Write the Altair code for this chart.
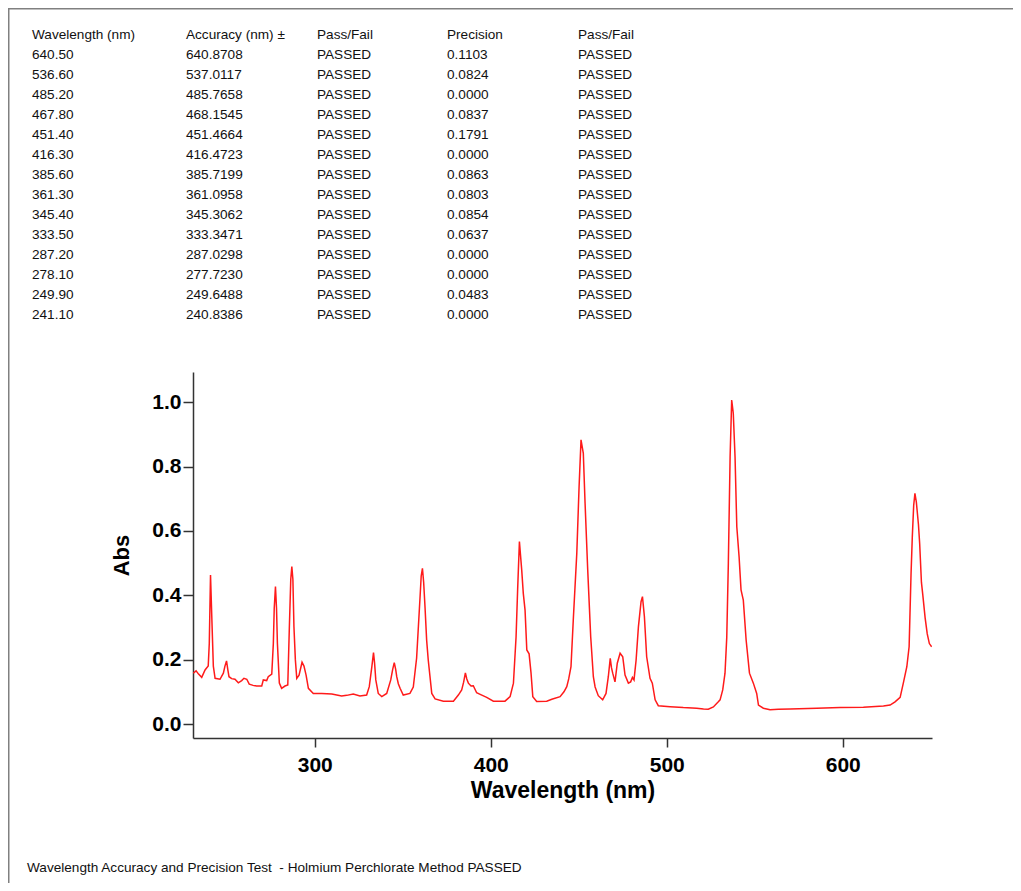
import altair as alt
import pandas as pd

# ---------------- data ----------------
wavelength_nm = [
    231.0, 232.6, 234.0, 235.8, 237.7, 239.5, 240.1, 240.8, 241.6, 242.4,
    243.4, 246.2, 248.1, 249.0, 249.9, 250.6, 251.3, 252.8, 254.7, 256.6,
    258.5, 259.8, 261.4, 262.8, 265.0, 267.0, 269.9, 270.8, 272.7, 273.6,
    275.6, 276.5, 277.0, 277.7, 278.3, 278.8, 279.9, 281.2, 283.1, 284.7,
    285.6, 286.4, 287.0, 287.6, 288.2, 289.0, 289.8, 291.1, 292.8, 293.9,
    295.1, 296.4, 299.2, 304.0, 309.7, 315.3, 318.2, 321.9, 325.7, 329.5,
    331.0, 332.5, 333.4, 334.0, 334.7, 336.1, 338.1, 340.9, 343.2, 344.3,
    345.2, 346.0, 346.6, 347.5, 348.5, 350.3, 354.1, 356.0, 357.9, 359.8,
    360.5, 361.2, 361.9, 362.7, 363.6, 364.5, 366.5, 368.4, 373.1, 378.8,
    381.6, 383.5, 384.6, 385.6, 386.4, 387.3, 388.8, 390.1, 392.0, 394.0,
    397.7, 401.5, 408.1, 411.0, 412.9, 414.4, 415.3, 416.3, 417.6, 418.5,
    419.5, 420.5, 421.8, 422.9, 423.9, 426.1, 431.8, 434.7, 439.4, 441.6,
    443.2, 444.3, 445.6, 446.9, 448.9, 450.2, 451.3, 452.6, 453.6, 455.1,
    456.8, 458.3, 459.3, 461.1, 463.6, 465.5, 466.8, 467.9, 468.6, 469.3,
    470.6, 471.9, 473.5, 475.0, 476.3, 478.2, 479.5, 480.5, 481.4, 482.6,
    483.9, 485.4, 486.2, 487.3, 488.6, 490.5, 491.8, 493.4, 495.2, 501.9,
    509.4, 517.0, 520.9, 523.6, 526.5, 529.3, 530.3, 531.8, 533.1, 534.1,
    535.0, 536.0, 536.9, 537.8, 538.8, 539.8, 541.1, 542.2, 543.5, 545.1,
    547.0, 549.2, 551.1, 552.1, 554.9, 558.7, 563.4, 570.1, 585.2, 598.5,
    611.7, 623.1, 626.9, 629.7, 632.6, 634.4, 636.4, 637.7, 638.8, 639.5,
    640.3, 641.0, 641.8, 643.0, 643.7, 644.7, 645.5, 646.8, 648.0, 649.2,
    650.5,
]
absorbance = [
    0.158, 0.165, 0.155, 0.145, 0.168, 0.180, 0.250, 0.463, 0.320, 0.180,
    0.142, 0.139, 0.158, 0.180, 0.196, 0.170, 0.147, 0.141, 0.139, 0.128,
    0.135, 0.142, 0.139, 0.124, 0.120, 0.118, 0.118, 0.137, 0.135, 0.147,
    0.155, 0.251, 0.360, 0.427, 0.360, 0.251, 0.127, 0.111, 0.118, 0.121,
    0.302, 0.450, 0.489, 0.450, 0.302, 0.200, 0.142, 0.152, 0.192, 0.180,
    0.152, 0.111, 0.095, 0.095, 0.093, 0.087, 0.089, 0.093, 0.087, 0.090,
    0.116, 0.180, 0.222, 0.190, 0.137, 0.095, 0.085, 0.095, 0.137, 0.170,
    0.191, 0.170, 0.147, 0.125, 0.111, 0.090, 0.095, 0.115, 0.205, 0.390,
    0.460, 0.484, 0.440, 0.360, 0.260, 0.199, 0.095, 0.078, 0.071, 0.071,
    0.090, 0.106, 0.130, 0.159, 0.140, 0.127, 0.118, 0.119, 0.097, 0.092,
    0.083, 0.071, 0.071, 0.085, 0.127, 0.271, 0.420, 0.567, 0.479, 0.406,
    0.354, 0.230, 0.218, 0.158, 0.085, 0.070, 0.071, 0.077, 0.085, 0.100,
    0.116, 0.140, 0.178, 0.323, 0.531, 0.738, 0.883, 0.841, 0.686, 0.479,
    0.271, 0.147, 0.115, 0.088, 0.075, 0.095, 0.147, 0.204, 0.175, 0.158,
    0.131, 0.189, 0.220, 0.209, 0.152, 0.127, 0.131, 0.145, 0.137, 0.199,
    0.302, 0.380, 0.396, 0.334, 0.209, 0.142, 0.127, 0.075, 0.057, 0.054,
    0.051, 0.049, 0.047, 0.046, 0.053, 0.069, 0.075, 0.106, 0.158, 0.270,
    0.500, 0.831, 1.007, 0.966, 0.831, 0.613, 0.520, 0.417, 0.385, 0.261,
    0.158, 0.127, 0.095, 0.059, 0.049, 0.044, 0.046, 0.047, 0.049, 0.051,
    0.052, 0.056, 0.059, 0.069, 0.083, 0.127, 0.178, 0.240, 0.468, 0.580,
    0.680, 0.717, 0.690, 0.620, 0.560, 0.440, 0.400, 0.330, 0.280, 0.250,
    0.240,
]

table_headers = ["Wavelength (nm)", "Accuracy (nm) \u00b1", "Pass/Fail", "Precision", "Pass/Fail"]
ref_wavelength = ["640.50", "536.60", "485.20", "467.80", "451.40", "416.30", "385.60",
                  "361.30", "345.40", "333.50", "287.20", "278.10", "249.90", "241.10"]
accuracy = ["640.8708", "537.0117", "485.7658", "468.1545", "451.4664", "416.4723", "385.7199",
            "361.0958", "345.3062", "333.3471", "287.0298", "277.7230", "249.6488", "240.8386"]
accuracy_result = ["PASSED"] * 14
precision = ["0.1103", "0.0824", "0.0000", "0.0837", "0.1791", "0.0000", "0.0863",
             "0.0803", "0.0854", "0.0637", "0.0000", "0.0000", "0.0483", "0.0000"]
precision_result = ["PASSED"] * 14

x_ticks = [300, 400, 500, 600]
y_ticks = [0.0, 0.2, 0.4, 0.6, 0.8, 1.0]
caption = "Wavelength Accuracy and Precision Test\u00a0 - Holmium Perchlorate Method PASSED"

# ---------------- layout ----------------
PAD_L, PAD_T, PAD_R, PAD_B = 185, 364, 81, 145
W, H = 739, 366
FONT = "Liberation Sans"

spec_df = pd.DataFrame({"wl": wavelength_nm, "abs": absorbance})

spectrum = alt.Chart(spec_df).mark_line(color="#ff1a1a", strokeWidth=1.5, clip=True).encode(
    x=alt.X("wl:Q",
            scale=alt.Scale(domain=[230.85, 650.7], nice=False, zero=False),
            axis=alt.Axis(values=x_ticks, format="d", grid=False,
                          title="Wavelength (nm)", titleFont=FONT, titleFontSize=23,
                          titleFontWeight="bold", titleColor="black",
                          titleY=52, titleBaseline="middle",
                          labelFont=FONT, labelFontSize=21, labelFontWeight="bold",
                          labelColor="black", labelPadding=7,
                          tickSize=9, tickWidth=1.5, tickColor="#333333",
                          domainColor="#333333", domainWidth=1.5)),
    y=alt.Y("abs:Q",
            scale=alt.Scale(domain=[-0.0435, 1.094], nice=False, zero=False),
            axis=alt.Axis(values=y_ticks, format=".1f", grid=False,
                          title="Abs", titleFont=FONT, titleFontSize=22,
                          titleFontWeight="bold", titleColor="black",
                          titleX=-72, titleY=H / 2, titleAngle=270,
                          titleBaseline="middle", titleAlign="center",
                          labelFont=FONT, labelFontSize=21, labelFontWeight="bold",
                          labelColor="black", labelPadding=2,
                          tickSize=10, tickWidth=1.5, tickColor="#333333",
                          domainColor="#333333", domainWidth=1.5)),
)

# table: one text layer per column (header + 14 rows)
columns = [ref_wavelength, accuracy, accuracy_result, precision, precision_result]
col_screen_x = [32, 186, 317, 447, 578]
row_scale = alt.Scale(domain=[0, 14], range=[35 - 8 - PAD_T, 315 - 8 - PAD_T])

table_layers = []
for header, values, sx in zip(table_headers, columns, col_screen_x):
    df = pd.DataFrame({"row": list(range(15)), "label": [header] + values})
    table_layers.append(
        alt.Chart(df).mark_text(align="left", baseline="middle", font=FONT,
                                fontSize=13.6, color="#111111").encode(
            x=alt.value(sx - 8 - PAD_L),
            y=alt.Y("row:Q", scale=row_scale, axis=None),
            text="label:N",
        )
    )

cap = alt.Chart(pd.DataFrame({"label": [caption]})).mark_text(
    align="left", baseline="middle", font=FONT, fontSize=13.6, color="#111111"
).encode(x=alt.value(27 - 8 - PAD_L), y=alt.value(868 - 8 - PAD_T), text="label:N")

one = pd.DataFrame({"k": [0]})
top_border = alt.Chart(one).mark_rule(color="#808080", strokeWidth=1.5).encode(
    x=alt.value(-PAD_L), x2=alt.value(W + PAD_R), y=alt.value(-PAD_T + 0.75))
left_border = alt.Chart(one).mark_rule(color="#808080", strokeWidth=1.5).encode(
    x=alt.value(-PAD_L + 0.75), y=alt.value(-PAD_T), y2=alt.value(H + PAD_B))

chart = alt.layer(spectrum, *table_layers, cap, top_border, left_border).resolve_scale(
    y="independent"
).properties(
    width=W, height=H,
    autosize=alt.AutoSizeParams(type="none"),
    padding={"left": PAD_L, "top": PAD_T, "right": PAD_R, "bottom": PAD_B},
    background="white",
).configure_view(stroke=None)

chart.save("out.html", embed_options={"renderer": "svg", "actions": False})
